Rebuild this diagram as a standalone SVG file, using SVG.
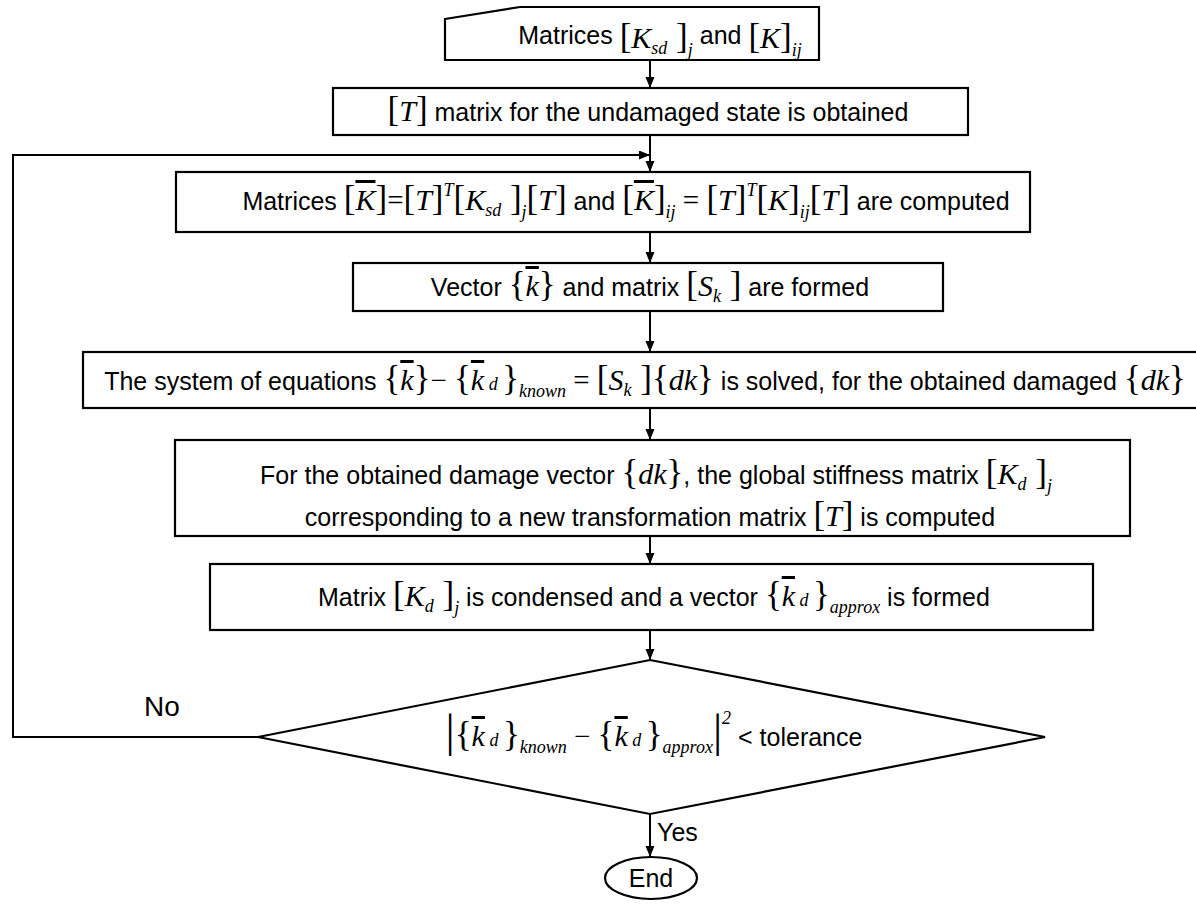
<svg xmlns="http://www.w3.org/2000/svg" width="1196" height="905" viewBox="0 0 1196 905">
<defs>
<marker id="ah" markerUnits="userSpaceOnUse" markerWidth="12" markerHeight="10" refX="11" refY="4.5" orient="auto">
<path d="M0,0 L11,4.5 L0,9 z" fill="#000"/>
</marker>
<style>
.box{fill:#fff;stroke:#000;stroke-width:2.2}
.con{fill:none;stroke:#000;stroke-width:2}
.t{font-family:"Liberation Sans",Arial,sans-serif;font-size:25px;fill:#000}
.m{font-family:"Liberation Serif","Times New Roman",serif;font-style:italic;font-size:30px}
.b{font-family:"Liberation Serif","Times New Roman",serif;font-style:normal;font-size:35px}
.e{font-family:"Liberation Serif","Times New Roman",serif;font-style:normal;font-size:29px}
.s{font-family:"Liberation Serif","Times New Roman",serif;font-style:italic;font-size:18px}
.o{text-decoration:overline}
</style>
</defs>

<g id="connectors">
<line class="con" x1="650" y1="60" x2="650" y2="88" marker-end="url(#ah)"/>
<line class="con" x1="650" y1="135" x2="650" y2="172" marker-end="url(#ah)"/>
<polyline class="con" points="258,737 13,737 13,155 650,155" marker-end="url(#ah)"/>
<line class="con" x1="650" y1="232" x2="650" y2="263" marker-end="url(#ah)"/>
<line class="con" x1="650" y1="311" x2="650" y2="352" marker-end="url(#ah)"/>
<line class="con" x1="650" y1="408" x2="650" y2="440" marker-end="url(#ah)"/>
<line class="con" x1="650" y1="536" x2="650" y2="564" marker-end="url(#ah)"/>
<line class="con" x1="650" y1="630" x2="650" y2="660" marker-end="url(#ah)"/>
<line class="con" x1="650" y1="814" x2="650" y2="857" marker-end="url(#ah)"/>
<text class="t" x="144" y="716" style="font-size:28px">No</text>
<text class="t" x="657" y="841">Yes</text>
</g>

<g id="n1">
<polygon class="box" points="445,19 520,7 819,7 819,60 445,60"/>
<text class="t" x="660" y="44" text-anchor="middle">Matrices <tspan class="b" dy="4">[</tspan><tspan class="m">K</tspan><tspan class="s" dy="6">sd</tspan><tspan class="b" dy="-6"> ]</tspan><tspan class="s" dy="8">j</tspan><tspan dy="-12">  and  </tspan><tspan class="b" dy="4">[</tspan><tspan class="m">K</tspan><tspan class="b">]</tspan><tspan class="s" dy="8">ij</tspan></text>
</g>

<g id="n2">
<rect class="box" x="333" y="88" width="635" height="47"/>
<text class="t" x="648" y="121" text-anchor="middle"><tspan class="b">[</tspan><tspan class="m">T</tspan><tspan class="b">]</tspan>  matrix for the undamaged state is obtained</text>
</g>

<g id="n3">
<rect class="box" x="176" y="172" width="854" height="60"/>
<text class="t" x="626" y="210" text-anchor="middle">Matrices  <tspan class="b">[</tspan><tspan class="m o">K</tspan><tspan class="b">]</tspan><tspan class="e">=</tspan><tspan class="b">[</tspan><tspan class="m">T</tspan><tspan class="b">]</tspan><tspan class="s" dy="-14">T</tspan><tspan class="b" dy="14">[</tspan><tspan class="m">K</tspan><tspan class="s" dy="6">sd</tspan><tspan class="b" dy="-6"> ]</tspan><tspan class="s" dy="8">j</tspan><tspan class="b" dy="-8">[</tspan><tspan class="m">T</tspan><tspan class="b">]</tspan>  and  <tspan class="b">[</tspan><tspan class="m o">K</tspan><tspan class="b">]</tspan><tspan class="s" dy="8">ij</tspan><tspan class="e" dy="-8"> = </tspan><tspan class="b">[</tspan><tspan class="m">T</tspan><tspan class="b">]</tspan><tspan class="s" dy="-14">T</tspan><tspan class="b" dy="14">[</tspan><tspan class="m">K</tspan><tspan class="b">]</tspan><tspan class="s" dy="8">ij</tspan><tspan class="b" dy="-8">[</tspan><tspan class="m">T</tspan><tspan class="b">]</tspan>  are computed</text>
</g>

<g id="n4">
<rect class="box" x="353" y="263" width="590" height="48"/>
<text class="t" x="650" y="296" text-anchor="middle">Vector  <tspan class="b">{</tspan><tspan class="m o">k</tspan><tspan class="b">}</tspan>  and matrix  <tspan class="b">[</tspan><tspan class="m">S</tspan><tspan class="s" dy="6">k</tspan><tspan class="b" dy="-6"> ]</tspan>  are formed</text>
</g>

<g id="n5">
<rect class="box" x="83" y="352" width="1123" height="56"/>
<text class="t" x="645" y="390" text-anchor="middle">The system of equations  <tspan class="b">{</tspan><tspan class="m o">k</tspan><tspan class="b">}</tspan><tspan class="e">− </tspan><tspan class="b">{</tspan><tspan class="m o">k</tspan><tspan class="s"> d </tspan><tspan class="b">}</tspan><tspan class="s" dy="7">known</tspan><tspan class="e" dy="-7"> = </tspan><tspan class="b">[</tspan><tspan class="m">S</tspan><tspan class="s" dy="6">k</tspan><tspan class="b" dy="-6"> ]{</tspan><tspan class="m">dk</tspan><tspan class="b">}</tspan>  is solved, for the obtained damaged  <tspan class="b">{</tspan><tspan class="m">dk</tspan><tspan class="b">}</tspan></text>
</g>

<g id="n6">
<rect class="box" x="175" y="440" width="955" height="96"/>
<text class="t" x="656" y="484" text-anchor="middle">For the obtained damage vector  <tspan class="b">{</tspan><tspan class="m">dk</tspan><tspan class="b">}</tspan>, the global stiffness matrix  <tspan class="b">[</tspan><tspan class="m">K</tspan><tspan class="s" dy="6">d</tspan><tspan class="b" dy="-6"> ]</tspan><tspan class="s" dy="8">j</tspan></text>
<text class="t" x="650" y="526" text-anchor="middle">corresponding to a new transformation matrix  <tspan class="b">[</tspan><tspan class="m">T</tspan><tspan class="b">]</tspan>  is computed</text>
</g>

<g id="n7">
<rect class="box" x="210" y="564" width="883" height="66"/>
<text class="t" x="654" y="606" text-anchor="middle">Matrix  <tspan class="b">[</tspan><tspan class="m">K</tspan><tspan class="s" dy="6">d</tspan><tspan class="b" dy="-6"> ]</tspan><tspan class="s" dy="8">j</tspan><tspan dy="-8">  is condensed and a vector  </tspan><tspan class="b">{</tspan><tspan class="m o">k</tspan><tspan class="s"> d </tspan><tspan class="b">}</tspan><tspan class="s" dy="7">approx</tspan><tspan dy="-7">  is formed</tspan></text>
</g>

<g id="n8">
<polygon class="box" points="650,660 1045,737 650,814 258,737"/>
<text class="t" x="654" y="746" text-anchor="middle"><tspan class="b" style="font-size:46px">|</tspan><tspan class="b">{</tspan><tspan class="m o">k</tspan><tspan class="s"> d </tspan><tspan class="b">}</tspan><tspan class="s" dy="7">known</tspan><tspan class="e" dy="-7"> − </tspan><tspan class="b">{</tspan><tspan class="m o">k</tspan><tspan class="s"> d </tspan><tspan class="b">}</tspan><tspan class="s" dy="7">approx</tspan><tspan class="b" style="font-size:46px" dy="-7">|</tspan><tspan class="s" dy="-22">2</tspan><tspan dy="22"> &lt; tolerance</tspan></text>
</g>

<g id="n9">
<ellipse class="box" cx="651" cy="878" rx="46" ry="21"/>
<text class="t" x="651" y="887" text-anchor="middle">End</text>
</g>
</svg>
